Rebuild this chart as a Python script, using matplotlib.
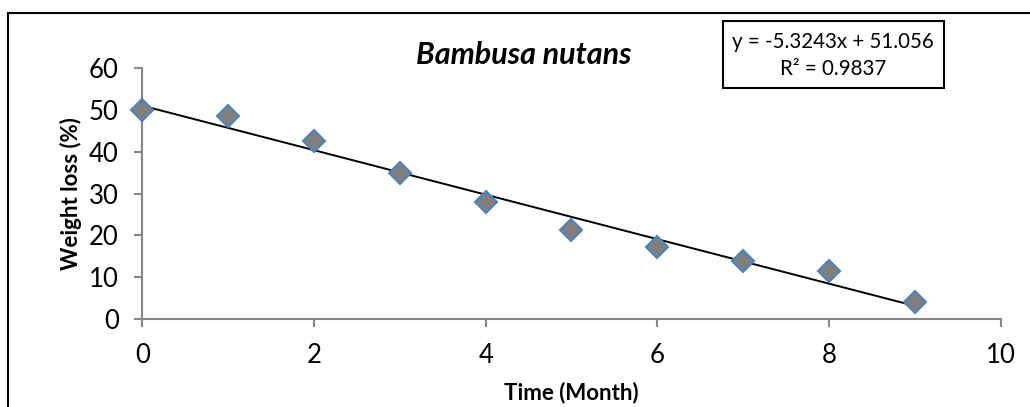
import matplotlib
matplotlib.use("Agg")
import matplotlib.pyplot as plt
from matplotlib.patches import Rectangle
import numpy as np

months = [0, 1, 2, 3, 4, 5, 6, 7, 8, 9]
weight_loss = [50.0, 48.6, 42.5, 34.9, 28.1, 21.3, 17.2, 13.9, 11.4, 4.1]
slope = -5.3243
intercept = 51.056
r_squared = 0.9837
title = "Bambusa nutans"
x_ticks = [0, 2, 4, 6, 8, 10]
y_ticks = [0, 10, 20, 30, 40, 50, 60]

plt.rcParams['font.family'] = ['Lato', 'DejaVu Sans']

W, H = 1030, 407
fig = plt.figure(figsize=(W / 100, H / 100), dpi=100)
ax = fig.add_axes([0.1382, 0.2162, 0.9715 - 0.1382, 0.8322 - 0.2162])

# outer chart border
fig.patches.append(Rectangle((7.5 / W, -0.1), 1.2, 1 - 13.5 / H + 0.1,
                             transform=fig.transFigure, fill=False,
                             edgecolor='black', linewidth=1.5))

xs = np.array(months, dtype=float)
ax.plot([xs.min(), xs.max()], [slope * xs.min() + intercept, slope * xs.max() + intercept],
        color='black', linewidth=1.4, zorder=2)
ax.plot(months, weight_loss, linestyle='none', marker='D', markersize=11.5,
        markerfacecolor='#7f7f7f', markeredgecolor='#4f81bd', markeredgewidth=1.5,
        zorder=3, clip_on=False)

ax.set_xlim(0, 10)
ax.set_ylim(0, 60)
ax.set_xticks(x_ticks)
ax.set_yticks(y_ticks)
for s in ['top', 'right']:
    ax.spines[s].set_visible(False)
for s in ['left', 'bottom']:
    ax.spines[s].set_color('#868686')
    ax.spines[s].set_linewidth(1.5)
ax.tick_params(axis='both', direction='out', length=6, width=1.5, color='#868686',
               labelsize=18.5, labelcolor='black')
ax.tick_params(axis='y', pad=11)
ax.tick_params(axis='x', pad=11)

ax.set_xlabel("Time (Month)", fontsize=16, fontweight='bold', labelpad=10)
ax.set_ylabel("Weight loss (%)", fontsize=16, fontweight='bold', labelpad=5)

fig.text(524 / W, 1 - 55 / H, title, fontsize=22, fontweight='bold', fontstyle='italic',
         ha='center', va='center')

fig.patches.append(Rectangle((723 / W, 1 - 88 / H), (944 - 723) / W, 67 / H,
                             transform=fig.transFigure, facecolor='white',
                             edgecolor='black', linewidth=1.5, zorder=5))
fig.text(833 / W, 1 - 42 / H, f"y = {slope}x + {intercept}", fontsize=14.8,
         ha='center', va='center', zorder=6)
fig.text(833 / W, 1 - 69 / H, f"R² = {r_squared}", fontsize=14.8,
         ha='center', va='center', zorder=6)

fig.savefig("out.png", dpi=100)
